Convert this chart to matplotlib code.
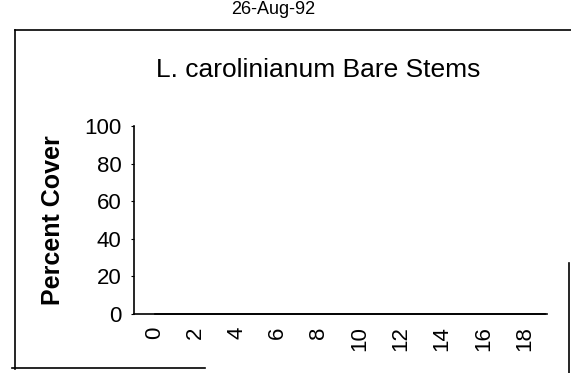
import matplotlib
matplotlib.use("Agg")
import matplotlib.pyplot as plt
from matplotlib.lines import Line2D

plt.rcParams['font.family'] = ['Liberation Sans', 'DejaVu Sans']

# Sampling positions and percent cover of bare stems
positions = list(range(20))
cover = [0] * 20
x_tick_values = [0, 2, 4, 6, 8, 10, 12, 14, 16, 18]
y_tick_values = [0, 20, 40, 60, 80, 100]

W, H = 571, 373
fig = plt.figure(figsize=(W / 100, H / 100), dpi=100)

ax = fig.add_axes([134 / W, 1 - 314 / H, (547 - 134) / W, (314 - 126) / H])
ax.plot(positions, cover, color='black', lw=1.2, clip_on=False)

ax.set_xlim(-1.0, 19.1)
ax.set_ylim(0, 100)
ax.set_xticks(x_tick_values)
ax.set_xticklabels([str(v) for v in x_tick_values], rotation=90, fontsize=16)
ax.set_yticks(y_tick_values)
ax.set_yticklabels([str(v) for v in y_tick_values], fontsize=16)
ax.tick_params(axis='x', length=0, pad=9)
ax.tick_params(axis='y', length=2, width=0.8, pad=7)
for side in ('top', 'right'):
    ax.spines[side].set_visible(False)
for side in ('left', 'bottom'):
    ax.spines[side].set_linewidth(1.2)
ax.set_ylabel('Percent Cover', fontsize=18, fontweight='bold', labelpad=14)

fig.text(318 / W, 1 - 70 / H, 'L. carolinianum Bare Stems', ha='center', va='center', fontsize=19)
fig.text(273 / W, 1 - 9 / H, '26-Aug-92', ha='center', va='center', fontsize=13)

# Chart border
border = dict(color='black', lw=1.2, transform=fig.transFigure)
fig.add_artist(Line2D([15 / W, 1.0], [1 - 30 / H, 1 - 30 / H], **border))
fig.add_artist(Line2D([15 / W, 15 / W], [1 - 30 / H, 1 - 369 / H], **border))
fig.add_artist(Line2D([12 / W, 205 / W], [1 - 368 / H, 1 - 368 / H], **border))
fig.add_artist(Line2D([569 / W, 569 / W], [1 - 263 / H, 0.0], **border))

fig.savefig('out.png', dpi=100)
